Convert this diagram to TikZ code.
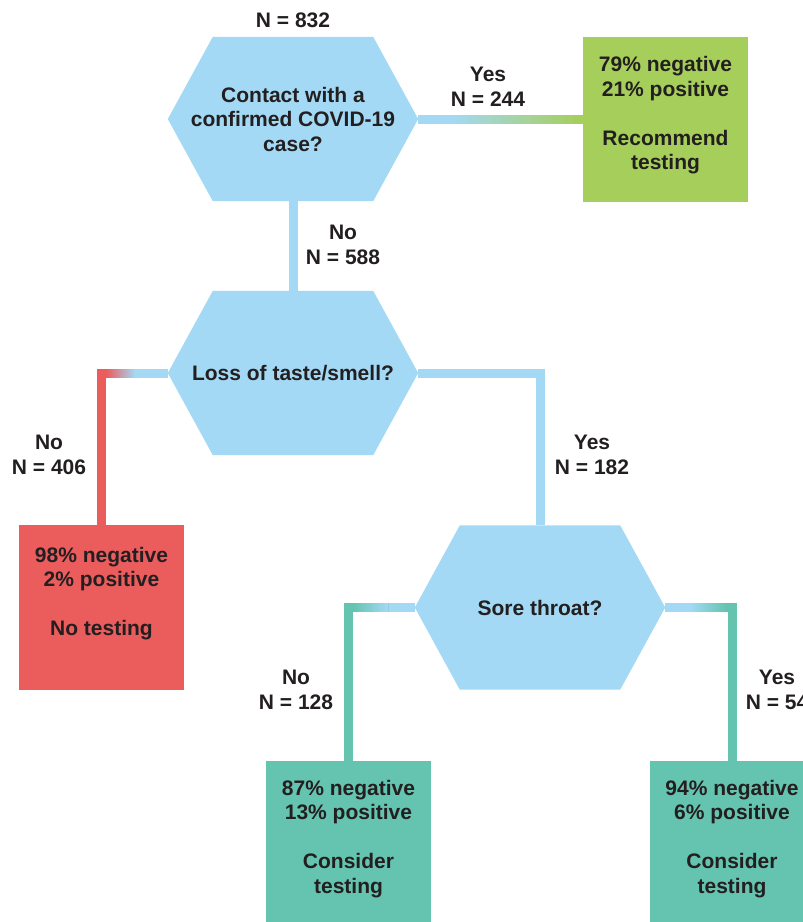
\documentclass[tikz,border=0pt]{standalone}
\usepackage{fontspec}
\setmainfont{Liberation Sans}
\usetikzlibrary{calc,backgrounds}
\definecolor{hexblue}{RGB}{163,217,244}
\definecolor{boxgreen}{RGB}{166,206,90}
\definecolor{boxred}{RGB}{235,92,93}
\definecolor{boxteal}{RGB}{100,196,176}
\definecolor{ink}{RGB}{35,31,32}
\newcommand{\hexfill}[1]{\fill[hexblue] (#1.west) -- ([xshift=45pt]#1.north west) -- ([xshift=-45pt]#1.north east) -- (#1.east) -- ([xshift=-45pt]#1.south east) -- ([xshift=45pt]#1.south west) -- cycle;}
% gradient line made of short segments: #1 start, #2 end, #3 start colour, #4 end colour
\newcommand{\gradline}[4]{%
  \foreach \i in {0,...,29}{%
    \pgfmathsetmacro{\pmix}{100-\i*100/29}%
    \pgfmathsetmacro{\tA}{\i/30}%
    \pgfmathsetmacro{\tB}{min(1,(\i+1.3)/30)}%
    \draw[conn, color=#3!\pmix!#4] ($(#1)!\tA!(#2)$) -- ($(#1)!\tB!(#2)$);
  }%
}
\tikzset{
  txtfont/.style={font=\fontsize{21}{24.5}\selectfont\bfseries, text=ink},
  hexnode/.style={minimum width=250pt, minimum height=164pt, inner sep=0pt, align=center, txtfont},
  outbox/.style={minimum width=165pt, minimum height=165pt, inner sep=0pt},
  boxtext/.style={anchor=north, inner sep=0pt, align=center, txtfont},
  lbl/.style={align=center, inner sep=0pt, txtfont},
  conn/.style={line width=9pt},
}
\begin{document}
\begin{tikzpicture}[x=1pt,y=-1pt]
\useasboundingbox (0,0) rectangle (803,922);
\clip (0,0) rectangle (803,922);
% decision nodes
\node[hexnode] (h1) at (293,119) {Contact with a\\confirmed COVID-19\\case?};
\node[hexnode] (h2) at (293,373) {Loss of taste/smell?};
\node[hexnode] (h3) at (540,607.5) {Sore throat?};
% outcome boxes
\node[outbox, fill=boxgreen] (green) at (665.5,119) {};
\node[outbox, fill=boxred] (red) at (101.5,607.5) {};
\node[outbox, fill=boxteal] (tealL) at (348.5,843.5) {};
\node[outbox, fill=boxteal] (tealR) at (732,843.5) {};
\node[boxtext] (gtext) at ([yshift=-20pt]green.north) {79\% negative\\21\% positive\\[24.5pt]Recommend\\testing};
\node[boxtext] (rtext) at ([yshift=-22pt]red.north) {98\% negative\\2\% positive\\[24.5pt]No testing};
\node[boxtext] (tltext) at ([yshift=-19pt]tealL.north) {87\% negative\\13\% positive\\[24.5pt]Consider\\testing};
\node[boxtext] (trtext) at ([yshift=-19pt]tealR.north) {94\% negative\\6\% positive\\[24.5pt]Consider\\testing};
% labels
\node[lbl] (n832) at (293,20) {N = 832};
\node[lbl] (l244) at (488,87) {Yes\\N = 244};
\node[lbl] (l588) at (343,245) {No\\N = 588};
\node[lbl] (l406) at (49,455) {No\\N = 406};
\node[lbl] (l182) at (592,455) {Yes\\N = 182};
\node[lbl] (l128) at (296,690) {No\\N = 128};
\node[lbl] (l54) at (777,690) {Yes\\N = 54};
% connectors
\draw[conn, hexblue] (h1.south) -- (h2.north);
\draw[conn, hexblue] (h2.east) -| (h3.north);
% contact -> green
\coordinate (g1) at ($(green.west)+(-133,0)$);
\draw[conn, hexblue] (h1.east) -- (g1);
\gradline{g1}{green.west}{hexblue}{boxgreen}
% taste/smell -> red
\draw[conn, boxred] (h2.west) -| (red.north);
\coordinate (c2) at (red.north |- h2.west);
\coordinate (c2a) at ($(c2)+(4.5,0)$);
\coordinate (c2b) at ($(c2)+(34,0)$);
\gradline{c2a}{c2b}{boxred}{hexblue}
\draw[conn, hexblue] (c2b) -- (h2.west);
% sore throat -> left teal
\draw[conn, boxteal] (h3.west) -| (tealL.north);
\coordinate (c3) at (tealL.north |- h3.west);
\coordinate (c3a) at ($(c3)+(4.5,0)$);
\coordinate (c3b) at ($(c3)+(40,0)$);
\gradline{c3a}{c3b}{boxteal}{hexblue}
\draw[conn, hexblue] (c3b) -- (h3.west);
% sore throat -> right teal
\draw[conn, boxteal] (h3.east) -| (tealR.north);
\coordinate (c4) at (tealR.north |- h3.east);
\coordinate (c4a) at ($(c4)+(-42,0)$);
\coordinate (c4b) at ($(c4)+(-4.5,0)$);
\draw[conn, hexblue] (h3.east) -- (c4a);
\gradline{c4a}{c4b}{hexblue}{boxteal}
% hexagon shapes behind text
\begin{scope}[on background layer]
\hexfill{h1}
\hexfill{h2}
\hexfill{h3}
\end{scope}
\end{tikzpicture}
\end{document}
